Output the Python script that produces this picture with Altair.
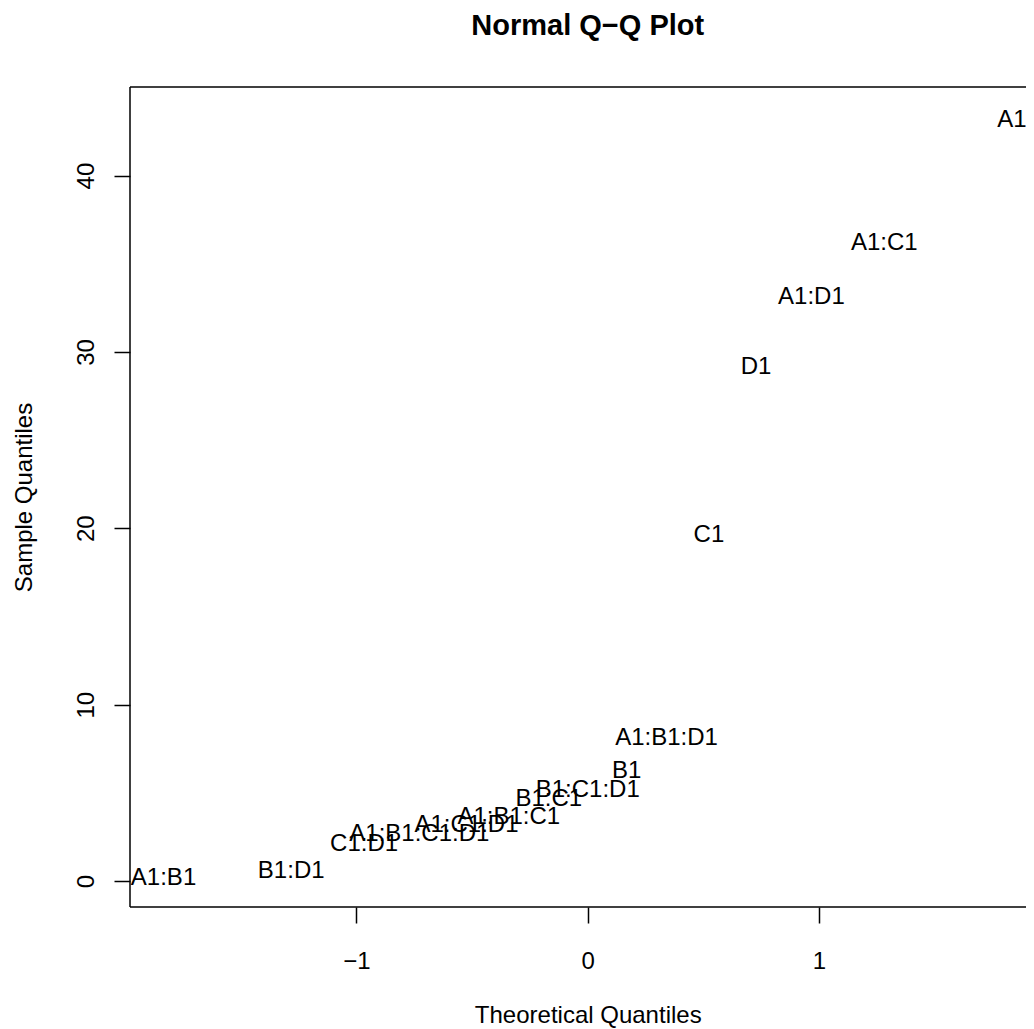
import altair as alt
import pandas as pd

labels = ["A1:B1", "B1:D1", "C1:D1", "A1:B1:C1:D1", "A1:C1:D1", "A1:B1:C1",
          "B1:C1", "B1:C1:D1", "B1", "A1:B1:D1", "C1", "D1", "A1:D1", "A1:C1", "A1"]
theoretical = [-1.834, -1.282, -0.967, -0.728, -0.524, -0.341, -0.168, 0.0,
               0.168, 0.341, 0.524, 0.728, 0.967, 1.282, 1.834]
sample = [0.20, 0.62, 2.18, 2.75, 3.23, 3.66, 4.73, 5.22, 6.29, 8.19,
          19.70, 29.22, 33.19, 36.25, 43.22]
x_ticks = [-1, 0, 1]
y_ticks = [0, 10, 20, 30, 40]

df = pd.DataFrame({"label": labels, "tq": theoretical, "sq": sample})

W, H = 896, 820
FONT = "Liberation Sans"

xscale = alt.Scale(domain=[-1.979, 1.895], nice=False, zero=False)
yscale = alt.Scale(domain=[-1.474, 45.02], nice=False, zero=False)

points = alt.Chart(df).mark_text(
    font=FONT, fontSize=24, align="center", baseline="middle", color="black", dy=1
).encode(
    x=alt.X("tq:Q", scale=xscale,
            axis=alt.Axis(values=x_ticks, title="Theoretical Quantiles",
                          titleX=457.75, titleY=115, titleBaseline="alphabetic",
                          titleAlign="center",
                          labelBaseline="alphabetic", labelPadding=45,
                          labelAlign="center")),
    y=alt.Y("sq:Q", scale=yscale,
            axis=alt.Axis(values=y_ticks, title="Sample Quantiles",
                          titleX=-99, titleY=410, titleAngle=270,
                          titleBaseline="alphabetic", titleAlign="center",
                          labelAngle=270, labelAlign="center",
                          labelBaseline="alphabetic", labelPadding=21)),
    text="label:N",
)

frame_style = dict(color="black", strokeWidth=1.5)
top = alt.Chart().mark_rule(**frame_style).encode(
    x=alt.value(0), x2=alt.value(W), y=alt.value(0))
bottom = alt.Chart().mark_rule(**frame_style).encode(
    x=alt.value(0), x2=alt.value(W), y=alt.value(H))
left = alt.Chart().mark_rule(**frame_style).encode(
    x=alt.value(0), y=alt.value(0), y2=alt.value(H))

chart = alt.layer(points, top, bottom, left).properties(
    width=W, height=H,
    background="white",
    title=alt.TitleParams("Normal Q\u2212Q Plot", font=FONT, fontSize=29,
                          fontWeight="bold", color="black", anchor="middle",
                          frame="group", dx=9.75, offset=22,
                          baseline="alphabetic"),
    padding={"left": 122, "top": 79, "right": 0, "bottom": 122},
    autosize=alt.AutoSizeParams(type="none"),
).configure_view(stroke=None).configure_axis(
    grid=False, domain=False, tickColor="black", tickWidth=1.5, tickSize=16,
    labelFont=FONT, labelFontSize=24, labelColor="black",
    titleFont=FONT, titleFontSize=24, titleColor="black", titleFontWeight="normal",
    labelOverlap=False, labelFlush=False,
)

chart.save("out.html", embed_options={"renderer": "svg", "actions": False})
